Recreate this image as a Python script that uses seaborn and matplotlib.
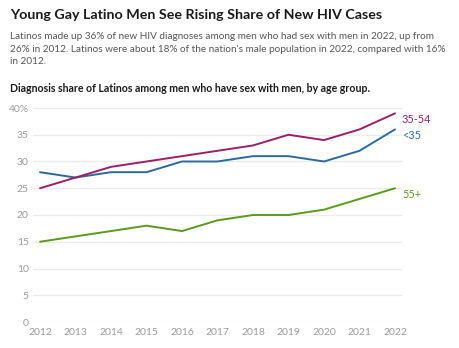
import matplotlib
matplotlib.use("Agg")
import matplotlib.pyplot as plt
import seaborn as sns
import pandas as pd

years = list(range(2012, 2023))
under35 = [28, 27, 28, 28, 30, 30, 31, 31, 30, 32, 36]
mid35_54 = [25, 27, 29, 30, 31, 32, 33, 35, 34, 36, 39]
over55 = [15, 16, 17, 18, 17, 19, 20, 20, 21, 23, 25]
groups = ["<35", "35-54", "55+"]
colors = {"<35": "#2a6a9e", "35-54": "#9b1f64", "55+": "#5a9a1c"}
yticks = [0, 5, 10, 15, 20, 25, 30, 35, 40]
ytick_labels = ["0", "5", "10", "15", "20", "25", "30", "35", "40%"]

df = pd.concat([
    pd.DataFrame({"year": years, "share": under35, "group": "<35"}),
    pd.DataFrame({"year": years, "share": mid35_54, "group": "35-54"}),
    pd.DataFrame({"year": years, "share": over55, "group": "55+"}),
])

sns.set_theme(style="white")
plt.rcParams["font.family"] = ["Lato", "DejaVu Sans"]

fig = plt.figure(figsize=(4.59, 3.48), dpi=100)
ax = fig.add_axes([33/459, 1-322/348, (402-33)/459, (322-108)/348])

for y in yticks:
    ax.axhline(y, color="#ebebeb", lw=0.9, zorder=0)

sns.lineplot(data=df, x="year", y="share", hue="group", palette=colors,
             hue_order=groups, ax=ax, lw=1.4, legend=False)

ax.set_xlim(2012 - 7/35.5, 2022 + 7/35.5)
ax.set_ylim(0, 40)
ax.set_yticks(yticks)
ax.set_yticklabels(ytick_labels)
ax.set_xticks(years)
ax.set_xticklabels([str(y) for y in years])
ax.tick_params(axis="both", length=0, labelsize=7.5, labelcolor="#9a9a9a")
ax.tick_params(axis="y", pad=3)
ax.tick_params(axis="x", pad=4)
for s in ax.spines.values():
    s.set_visible(False)
ax.set_xlabel("")
ax.set_ylabel("")
ax.grid(False)

last = {"<35": under35[-1], "35-54": mid35_54[-1], "55+": over55[-1]}
for g in groups:
    ax.annotate(g, xy=(years[-1], last[g]), xytext=(5, -4.5),
                textcoords="offset points", color=colors[g], fontsize=7.8,
                va="center", ha="left", annotation_clip=False)

fig.text(10/459, 1-15/348, "Young Gay Latino Men See Rising Share of New HIV Cases",
         fontsize=10.3, fontweight="bold", color="#1a1a1a", va="center", ha="left")
fig.text(10/459, 1-49/348,
         "Latinos made up 36% of new HIV diagnoses among men who had sex with men in 2022, up from\n"
         "26% in 2012. Latinos were about 18% of the nation's male population in 2022, compared with 16%\n"
         "in 2012.",
         fontsize=7.2, color="#555555", va="center", ha="left", linespacing=1.5)
fig.text(10/459, 1-88/348,
         "Diagnosis share of Latinos among men who have sex with men, by age group.",
         fontsize=7.6, fontweight="bold", color="#1a1a1a", va="center", ha="left")

fig.savefig("out.png", dpi=100)
